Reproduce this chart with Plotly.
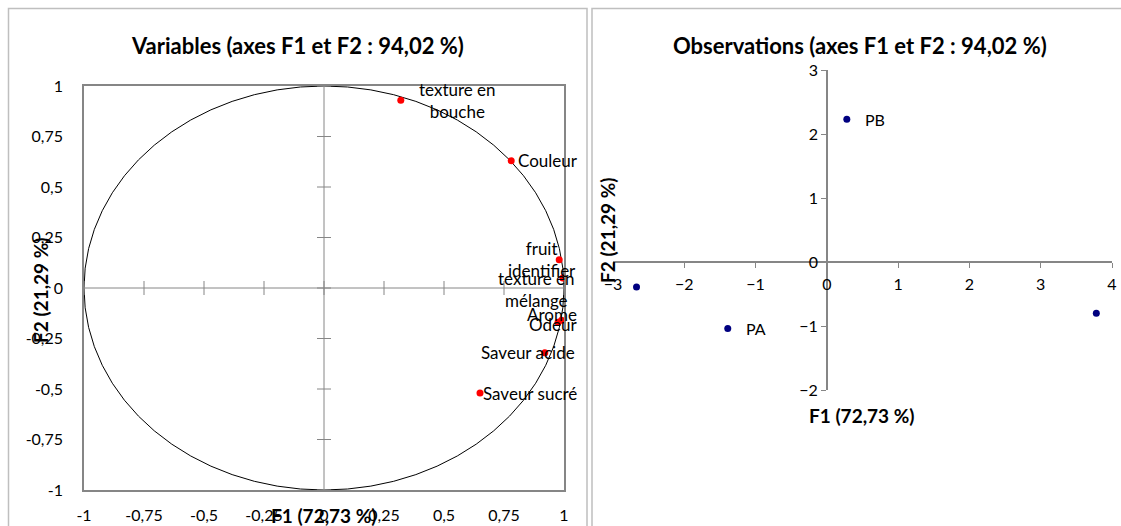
import plotly.graph_objects as go

# --- données ---
var_names = ["texture en<br>bouche", "Couleur", "fruit<br>identifier",
             "texture en<br>mélange", "Arome", "Odeur", "Saveur acide", "Saveur sucré"]
var_f1 = [0.32, 0.78, 0.98, 0.995, 0.99, 0.975, 0.92, 0.65]
var_f2 = [0.93, 0.63, 0.14, 0.05, -0.16, -0.17, -0.32, -0.52]

obs_names = ["", "PA", "PB", ""]
obs_f1 = [-2.67, -1.39, 0.28, 3.78]
obs_f2 = [-0.39, -1.04, 2.23, -0.80]

var_ticks = [-1, -0.75, -0.5, -0.25, 0, 0.25, 0.5, 0.75, 1]
var_ticktext = ["-1", "-0,75", "-0,5", "-0,25", "0", "0,25", "0,5", "0,75", "1"]
obs_xticks = [-3, -2, -1, 0, 1, 2, 3, 4]
obs_yticks = [-2, -1, 0, 1, 2, 3]

title_left = "Variables (axes F1 et F2 : 94,02 %)"
title_right = "Observations (axes F1 et F2 : 94,02 %)"
xlab = "F1 (72,73 %)"
ylab = "F2 (21,29 %)"

# décalages des étiquettes (pixels), style uniquement
lab_style = [
    dict(xanchor="left", xshift=16, yshift=0),
    dict(xanchor="left", xshift=5, yshift=0),
    dict(xanchor="center", xshift=-17, yshift=0),
    dict(xanchor="center", xshift=-26, yshift=-12),
    dict(xanchor="center", xshift=-10, yshift=6),
    dict(xanchor="center", xshift=-5, yshift=-2),
    dict(xanchor="center", xshift=-17, yshift=0),
    dict(xanchor="left", xshift=1, yshift=0),
]

FONT = "Lato, Carlito, Calibri, sans-serif"
GRID = "#868686"
W, H = 1121, 526

xdom_l = [84 / W, 564 / W]
ydom_l = [1 - 490 / H, 1 - 86 / H]
xdom_r = [613 / W, 1112 / W]
ydom_r = [1 - 390 / H, 1 - 70 / H]
xr_r = [min(obs_xticks), max(obs_xticks)]
yr_r = [min(obs_yticks), max(obs_yticks)]

fig = go.Figure()

# cercle des corrélations
fig.add_shape(type="circle", xref="x", yref="y", x0=-1, y0=-1, x1=1, y1=1,
              line=dict(color="black", width=1), layer="below")

# axes passant par zéro avec graduations croisées
fig.add_trace(go.Scatter(
    x=var_ticks, y=[0] * len(var_ticks), mode="lines+markers",
    line=dict(color=GRID, width=1),
    marker=dict(symbol="line-ns", size=10, line=dict(color=GRID, width=1)),
    hoverinfo="skip", showlegend=False, xaxis="x", yaxis="y"))
fig.add_trace(go.Scatter(
    x=[0] * len(var_ticks), y=var_ticks, mode="lines+markers",
    line=dict(color=GRID, width=1),
    marker=dict(symbol="line-ew", size=10, line=dict(color=GRID, width=1)),
    hoverinfo="skip", showlegend=False, xaxis="x", yaxis="y"))

fig.add_trace(go.Scatter(
    x=var_f1, y=var_f2, mode="markers",
    marker=dict(color="red", size=7),
    showlegend=False, xaxis="x", yaxis="y"))

for name, x, y, st in zip(var_names, var_f1, var_f2, lab_style):
    fig.add_annotation(x=x, y=y, xref="x", yref="y", text=name, showarrow=False,
                       align="center", yanchor="middle",
                       font=dict(family=FONT, size=17, color="black"), **st)

fig.add_trace(go.Scatter(
    x=obs_f1, y=obs_f2, mode="markers",
    marker=dict(color="#000080", size=7),
    showlegend=False, xaxis="x2", yaxis="y2"))

for name, x, y in zip(obs_names, obs_f1, obs_f2):
    if name:
        fig.add_annotation(x=x, y=y, xref="x2", yref="y2", text=name, showarrow=False,
                           xanchor="left", yanchor="middle", xshift=16,
                           font=dict(family=FONT, size=16, color="black"))

# position des axes croisant en zéro (panneau droit)
x0_paper = xdom_r[0] + (0 - xr_r[0]) / (xr_r[1] - xr_r[0]) * (xdom_r[1] - xdom_r[0])
y0_paper = ydom_r[0] + (0 - yr_r[0]) / (yr_r[1] - yr_r[0]) * (ydom_r[1] - ydom_r[0])

tickfont = dict(family=FONT, size=16, color="black")
fig.update_layout(
    width=W, height=H, template="none",
    paper_bgcolor="white", plot_bgcolor="white",
    margin=dict(l=0, r=0, t=0, b=0, autoexpand=False),
    xaxis=dict(domain=xdom_l, range=[-1, 1], tickvals=var_ticks, ticktext=var_ticktext,
               showgrid=False, zeroline=False, showline=True, mirror=True,
               linecolor=GRID, linewidth=1.5, ticks="", ticklabelstandoff=10,
               tickfont=tickfont, anchor="y", automargin=False),
    yaxis=dict(domain=ydom_l, range=[-1, 1], tickvals=var_ticks, ticktext=var_ticktext,
               showgrid=False, zeroline=False, showline=True, mirror=True,
               linecolor=GRID, linewidth=1.5, ticks="", ticklabelstandoff=16,
               tickfont=tickfont, anchor="x", automargin=False),
    xaxis2=dict(domain=xdom_r, range=xr_r, tickvals=obs_xticks,
                showgrid=False, zeroline=False, showline=True, linecolor=GRID,
                linewidth=1.5, ticks="outside", ticklen=5, tickcolor=GRID,
                ticklabelstandoff=3,
                tickfont=tickfont, anchor="free", position=y0_paper, automargin=False),
    yaxis2=dict(domain=ydom_r, range=yr_r, tickvals=obs_yticks,
                showgrid=False, zeroline=False, showline=True, linecolor=GRID,
                linewidth=1.5, ticks="outside", ticklen=5, tickcolor=GRID,
                tickfont=tickfont, anchor="free", position=x0_paper, automargin=False),
    font=dict(family=FONT),
)

# titres et libellés d'axes
bold = dict(family=FONT, size=22, color="black")
axf = dict(family=FONT, size=19, color="black")
common = dict(xref="paper", yref="paper", showarrow=False, xanchor="center", yanchor="middle")
fig.add_annotation(x=297 / W, y=1 - 45 / H, text="<b>%s</b>" % title_left, font=bold, **common)
fig.add_annotation(x=860 / W, y=1 - 45 / H, text="<b>%s</b>" % title_right, font=bold, **common)
fig.add_annotation(x=324 / W, y=1 - 515 / H, text="<b>%s</b>" % xlab, font=axf, **common)
fig.add_annotation(x=40 / W, y=1 - 290 / H, text="<b>%s</b>" % ylab, textangle=-90, font=axf, **common)
fig.add_annotation(x=862 / W, y=1 - 415 / H, text="<b>%s</b>" % xlab, font=axf, **common)
fig.add_annotation(x=607 / W, y=1 - 230 / H, text="<b>%s</b>" % ylab, textangle=-90, font=axf, **common)

# cadres des deux graphiques
fig.add_shape(type="rect", xref="paper", yref="paper", x0=8.5 / W, y0=-0.01, x1=587 / W, y1=1 - 8.5 / H,
              line=dict(color="#bfbfbf", width=1.5))
fig.add_shape(type="rect", xref="paper", yref="paper", x0=592 / W, y0=-0.01, x1=1.01, y1=1 - 8.5 / H,
              line=dict(color="#bfbfbf", width=1.5))

fig.write_html("out.html", config={"displayModeBar": False},
               post_script="document.body.style.margin='0';")
